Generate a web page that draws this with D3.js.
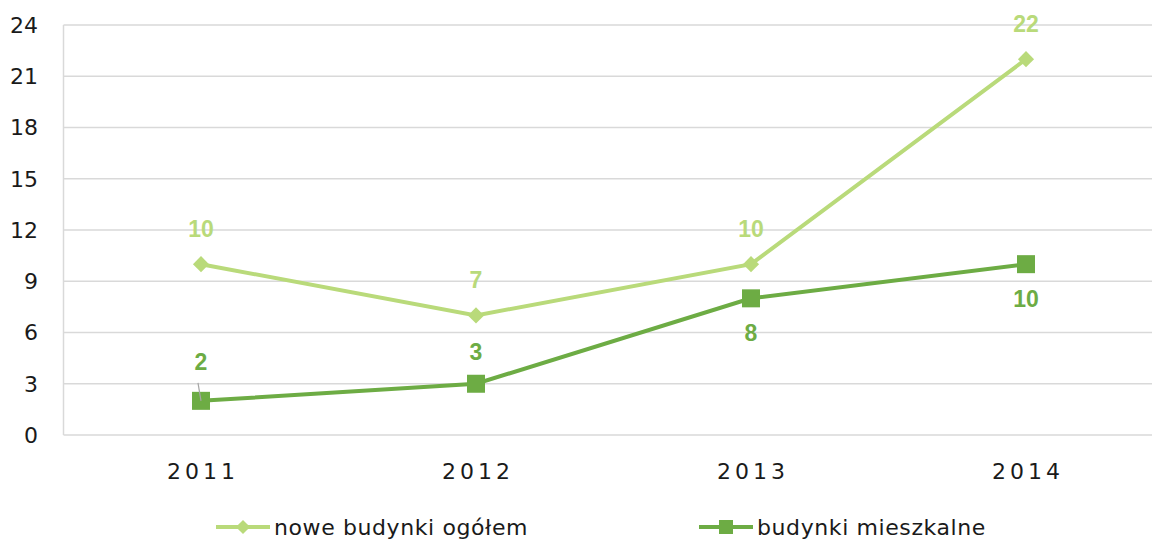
<!DOCTYPE html>
<html>
<head>
<meta charset="utf-8">
<script src="https://cdn.jsdelivr.net/npm/d3@7"></script>
<style>
  body { margin: 0; background: #fff; }
  svg { display: block; font-family: "DejaVu Sans", "Noto Sans", sans-serif; }
</style>
</head>
<body>
<svg id="chart" width="1152" height="540"></svg>
<script>
const years = ['2011', '2012', '2013', '2014'];
const yTicks = [0, 3, 6, 9, 12, 15, 18, 21, 24];
const noweOgolem = [10, 7, 10, 22];
const mieszkalne = [2, 3, 8, 10];
const seriesNames = ['nowe budynki ogółem', 'budynki mieszkalne'];

const lightGreen = '#b9da7a',
  darkGreen = '#6dac44';

const margin = { top: 25, left: 63.5, bottom: 105 };
const plotW = 1100, height = 540;

const svg = d3.select('#chart');

const x = d3.scaleBand()
  .domain(years)
  .range([margin.left, margin.left + plotW]);

const y = d3.scaleLinear()
  .domain([0, 24])
  .range([height - margin.bottom, margin.top]);

const cx = d => x(d) + x.bandwidth() / 2;

// gridlines
svg.append('g')
  .selectAll('line')
  .data(yTicks)
  .enter().append('line')
  .attr('x1', margin.left)
  .attr('x2', margin.left + plotW)
  .attr('y1', d => y(d))
  .attr('y2', d => y(d))
  .attr('stroke', '#d9d9d9')
  .attr('stroke-width', 1.5);

// left axis line
svg.append('line')
  .attr('x1', margin.left).attr('x2', margin.left)
  .attr('y1', y(24)).attr('y2', y(0))
  .attr('stroke', '#d9d9d9')
  .attr('stroke-width', 1.5);

// y tick labels
svg.append('g')
  .selectAll('text')
  .data(yTicks)
  .enter().append('text')
  .attr('x', 38)
  .attr('y', d => y(d))
  .attr('dy', '0.36em')
  .attr('text-anchor', 'end')
  .attr('font-size', 22)
  .attr('fill', '#1a1a1a')
  .text(d => d);

// x labels (wide tracking, shifted to stay centred)
svg.append('g')
  .selectAll('text')
  .data(years)
  .enter().append('text')
  .attr('x', d => cx(d) + 2)
  .attr('y', 479)
  .attr('text-anchor', 'middle')
  .attr('font-size', 22)
  .attr('letter-spacing', 4)
  .attr('fill', '#1a1a1a')
  .text(d => d);

const line = d3.line()
  .x((d, i) => cx(years[i]))
  .y(d => y(d));

// series 1: nowe budynki ogółem
svg.append('path')
  .datum(noweOgolem)
  .attr('d', line)
  .attr('fill', 'none')
  .attr('stroke', lightGreen)
  .attr('stroke-width', 4);

svg.append('g')
  .selectAll('path')
  .data(noweOgolem)
  .enter().append('path')
  .attr('d', d3.symbol().type(d3.symbolSquare).size(130))
  .attr('transform', (d, i) => `translate(${cx(years[i])},${y(d)}) rotate(45)`)
  .attr('fill', lightGreen);

// series 2: budynki mieszkalne
svg.append('path')
  .datum(mieszkalne)
  .attr('d', line)
  .attr('fill', 'none')
  .attr('stroke', darkGreen)
  .attr('stroke-width', 4);

svg.append('g')
  .selectAll('rect')
  .data(mieszkalne)
  .enter().append('rect')
  .attr('x', (d, i) => cx(years[i]) - 9)
  .attr('y', d => y(d) - 9)
  .attr('width', 18)
  .attr('height', 18)
  .attr('fill', darkGreen);

// data labels
const labelFont = '"Liberation Sans", Arial, sans-serif';

svg.append('g')
  .selectAll('text')
  .data(noweOgolem)
  .enter().append('text')
  .attr('x', (d, i) => cx(years[i]))
  .attr('y', d => y(d) - 27)
  .attr('text-anchor', 'middle')
  .attr('font-family', labelFont)
  .attr('font-weight', 'bold')
  .attr('font-size', 23)
  .attr('fill', lightGreen)
  .text(d => d);

// dark labels: first two above, last two below
const darkOffset = [-31, -24, 43, 43];

// leader line for the 2011 label
svg.append('line')
  .attr('x1', cx(years[0]) - 3)
  .attr('y1', y(mieszkalne[0]) - 18)
  .attr('x2', cx(years[0]))
  .attr('y2', y(mieszkalne[0]))
  .attr('stroke', '#a6a6a6')
  .attr('stroke-width', 1.2);

svg.append('g')
  .selectAll('text')
  .data(mieszkalne)
  .enter().append('text')
  .attr('x', (d, i) => cx(years[i]))
  .attr('y', (d, i) => y(d) + darkOffset[i])
  .attr('text-anchor', 'middle')
  .attr('font-family', labelFont)
  .attr('font-weight', 'bold')
  .attr('font-size', 23)
  .attr('fill', darkGreen)
  .text(d => d);

// legend
const legend = svg.append('g');
const legendItems = [
  { name: seriesNames[0], color: lightGreen, x: 216, shape: 'diamond' },
  { name: seriesNames[1], color: darkGreen, x: 699, shape: 'square' }
];

legendItems.forEach(it => {
  const g = legend.append('g').attr('transform', `translate(${it.x},527)`);
  g.append('line')
    .attr('x1', 0).attr('x2', 54)
    .attr('stroke', it.color)
    .attr('stroke-width', 4);
  if (it.shape === 'diamond') {
    g.append('path')
      .attr('d', d3.symbol().type(d3.symbolSquare).size(100))
      .attr('transform', 'translate(27,0) rotate(45)')
      .attr('fill', it.color);
  } else {
    g.append('rect')
      .attr('x', 20).attr('y', -7)
      .attr('width', 14).attr('height', 14)
      .attr('fill', it.color);
  }
  g.append('text')
    .attr('x', 58)
    .attr('y', 0)
    .attr('dy', '0.36em')
    .attr('font-size', 22)
    .attr('letter-spacing', 0.6)
    .attr('fill', '#1a1a1a')
    .text(it.name);
});
</script>
</body>
</html>
